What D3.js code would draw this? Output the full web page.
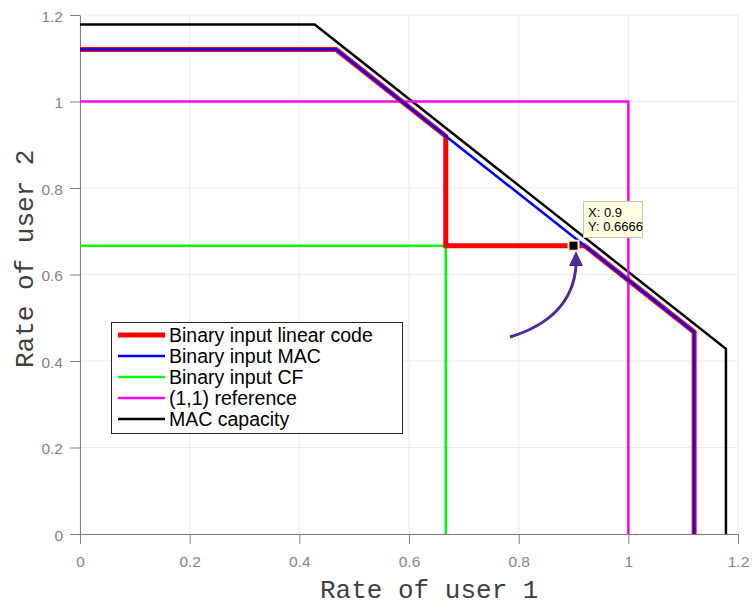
<!DOCTYPE html>
<html><head><meta charset="utf-8">
<script src="https://cdn.jsdelivr.net/npm/d3@7"></script>
<style>body{margin:0;background:#fff}svg{display:block}</style>
</head><body>
<svg id="c" width="752" height="608"></svg>
<script>
// ---- data ----
const seriesNames = ["Binary input linear code","Binary input MAC","Binary input CF","(1,1) reference","MAC capacity"];
const linearX = [0, 0.467, 0.667, 0.667, 0.92, 1.12, 1.12];
const linearY = [1.12, 1.12, 0.92, 0.6667, 0.6667, 0.467, 0];
const macX = [0, 0.467, 1.12, 1.12];
const macY = [1.12, 1.12, 0.467, 0];
const cfX = [0, 0.667, 0.667];
const cfY = [0.6667, 0.6667, 0];
const refX = [0, 1, 1];
const refY = [1, 1, 0];
const capX = [0, 0.428, 1.178, 1.178];
const capY = [1.178, 1.178, 0.428, 0];
const xTicks = [0, 0.2, 0.4, 0.6, 0.8, 1, 1.2];
const yTicks = [0, 0.2, 0.4, 0.6, 0.8, 1, 1.2];
const tipPoint = {x: 0.9, y: 0.6666};

const svg = d3.select("#c");
const L = 80, R = 738, T = 15, B = 534;
const x = d3.scaleLinear().domain([0, 1.2]).range([L, R]);
const y = d3.scaleLinear().domain([0, 1.2]).range([B, T]);
const fmt = d => String(d);

// grid
const g = svg.append("g");
g.selectAll(".gx").data(xTicks).enter().append("line")
  .attr("x1", d => x(d)).attr("x2", d => x(d)).attr("y1", T).attr("y2", B)
  .attr("stroke", "#ebebeb").attr("stroke-width", 1);
g.selectAll(".gy").data(yTicks).enter().append("line")
  .attr("y1", d => y(d)).attr("y2", d => y(d)).attr("x1", L).attr("x2", R)
  .attr("stroke", "#ebebeb").attr("stroke-width", 1);

// axes
const ax = svg.append("g").attr("transform", `translate(0,${B})`)
  .call(d3.axisBottom(x).tickValues(xTicks).tickFormat(fmt).tickSize(10).tickSizeOuter(0));
const ay = svg.append("g").attr("transform", `translate(${L},0)`)
  .call(d3.axisLeft(y).tickValues(yTicks).tickFormat(fmt).tickSize(10).tickSizeOuter(0));
[ax, ay].forEach(a => {
  a.select(".domain").attr("stroke", "#7f7f7f");
  a.selectAll(".tick line").attr("stroke", "#7f7f7f");
  a.selectAll(".tick text").attr("fill", "#858585")
    .style("font-family", "'Liberation Sans',Arial,sans-serif")
    .style("font-size", "15.5px");
});
ax.selectAll(".tick text").attr("dy", "0").attr("y", 33);
ay.selectAll(".tick text").attr("x", -17).attr("dy", "0.4em");

// lines
const line = d3.line().x(d => x(d[0])).y(d => y(d[1]));
const zip = (a, b) => a.map((v, i) => [v, b[i]]);
const draw = (xs, ys, col, w) => svg.append("path").datum(zip(xs, ys))
  .attr("d", line).attr("fill", "none").attr("stroke", col).attr("stroke-width", w)
  .attr("stroke-linejoin", "miter");
draw(capX, capY, "#000000", 2.5);
draw(refX, refY, "#ff00ff", 2.5);
draw(cfX, cfY, "#00ff00", 2.5);
draw(linearX, linearY, "#ff0000", 5);
draw(macX, macY, "#0000ff", 2.5);

// legend
const colors = ["#ff0000", "#0000ff", "#00ff00", "#ff00ff", "#000000"];
const widths = [5, 2.5, 2.5, 2.5, 2.5];
const lg = svg.append("g");
lg.append("rect").attr("x", 111.5).attr("y", 322.5).attr("width", 291).attr("height", 111)
  .attr("fill", "#fff").attr("stroke", "#262626").attr("stroke-width", 1);
seriesNames.forEach((n, i) => {
  const yy = 335 + i * 21;
  lg.append("line").attr("x1", 118).attr("x2", 165).attr("y1", yy).attr("y2", yy)
    .attr("stroke", colors[i]).attr("stroke-width", widths[i]);
  lg.append("text").attr("x", 169).attr("y", yy).attr("dy", "0.36em")
    .style("font-family", "'Liberation Sans',Arial,sans-serif").style("font-size", "19.5px")
    .attr("fill", "#000").text(n);
});

// data tip
const px = x(tipPoint.x), py = y(tipPoint.y);
svg.append("path")
  .attr("d", `M510,337 Q572,318 576,266`)
  .attr("fill", "none").attr("stroke", "#4b2a9e").attr("stroke-width", 3);
svg.append("path").attr("d", `M576,251 L569,266 L583,266 Z`).attr("fill", "#4b2a9e");
svg.append("rect").attr("x", px - 5).attr("y", py - 5).attr("width", 10).attr("height", 10)
  .attr("fill", "#000").attr("stroke", "#f2efc8").attr("stroke-width", 2);
svg.append("rect").attr("x", 583.5).attr("y", 201.5).attr("width", 59).attr("height", 36)
  .attr("fill", "#ffffe1").attr("stroke", "#c8c8b4").attr("stroke-width", 1);
svg.append("text").attr("x", 588).attr("y", 217)
  .style("font-family", "'Liberation Sans',Arial,sans-serif").style("font-size", "13px")
  .text("X: " + tipPoint.x);
svg.append("text").attr("x", 588).attr("y", 231)
  .style("font-family", "'Liberation Sans',Arial,sans-serif").style("font-size", "13px")
  .text("Y: " + tipPoint.y);

// axis labels
svg.append("text").attr("x", 320).attr("y", 598).attr("text-anchor", "start")
  .style("font-family", "'Liberation Mono','DejaVu Sans Mono',monospace").style("font-size", "26px")
  .attr("fill", "#404040").text("Rate of user 1");
svg.append("text").attr("transform", "translate(33,368) rotate(-90)").attr("text-anchor", "start")
  .style("font-family", "'Liberation Mono','DejaVu Sans Mono',monospace").style("font-size", "26px")
  .attr("fill", "#404040").text("Rate of user 2");
</script>
</body></html>
